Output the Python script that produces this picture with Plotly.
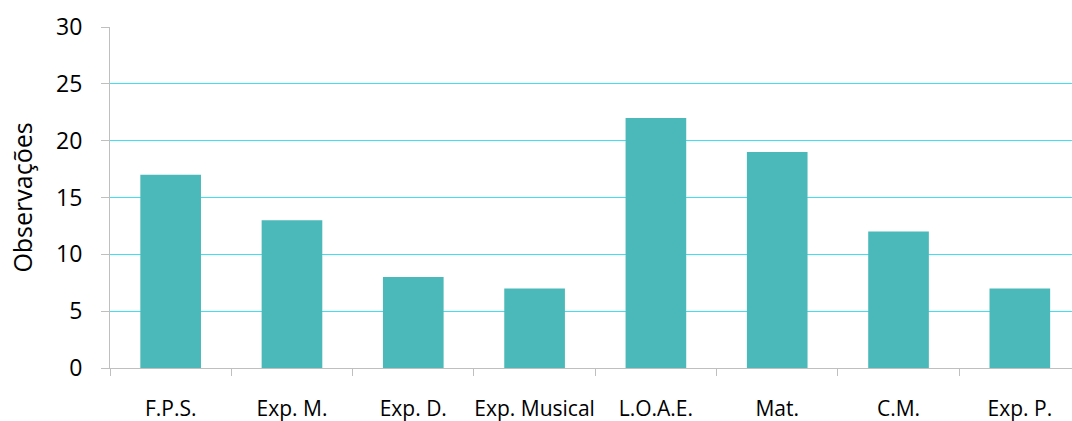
import plotly.graph_objects as go

categories = ["F.P.S.", "Exp. M.", "Exp. D.", "Exp. Musical", "L.O.A.E.", "Mat.", "C.M.", "Exp. P."]
observacoes = [17, 13, 8, 7, 22, 19, 12, 7]
y_ticks = [0, 5, 10, 15, 20, 25, 30]

font_family = "'Open Sans', Lato, sans-serif"

fig = go.Figure(
    go.Bar(
        x=categories,
        y=observacoes,
        marker=dict(color="#4BB9B9", line=dict(width=0)),
        width=0.5,
    )
)

fig.update_layout(
    width=1072,
    height=421,
    margin=dict(l=110, r=0, t=27, b=53),
    paper_bgcolor="white",
    plot_bgcolor="white",
    showlegend=False,
    font=dict(family=font_family, size=20, color="#000000"),
)

fig.update_xaxes(
    type="category",
    range=[-0.5, 7.43],
    automargin=False,
    showgrid=False,
    showline=True,
    linecolor="#BFBFBF",
    linewidth=1,
    ticks="outside",
    tickson="boundaries",
    ticklen=7,
    tickcolor="#BFBFBF",
    tickangle=0,
    ticklabelstandoff=22,
    tickfont=dict(size=21),
)

fig.update_yaxes(
    range=[0, 30],
    tickvals=y_ticks,
    automargin=False,
    showgrid=True,
    gridcolor="#3FE0F2",
    gridwidth=1,
    zeroline=False,
    showline=True,
    linecolor="#BFBFBF",
    linewidth=1,
    ticks="outside",
    ticklen=8,
    tickcolor="#BFBFBF",
    ticklabelstandoff=14,
    tickfont=dict(size=23),
    title=dict(text="Observações", standoff=16, font=dict(size=25)),
)

fig.write_html("out.html")
